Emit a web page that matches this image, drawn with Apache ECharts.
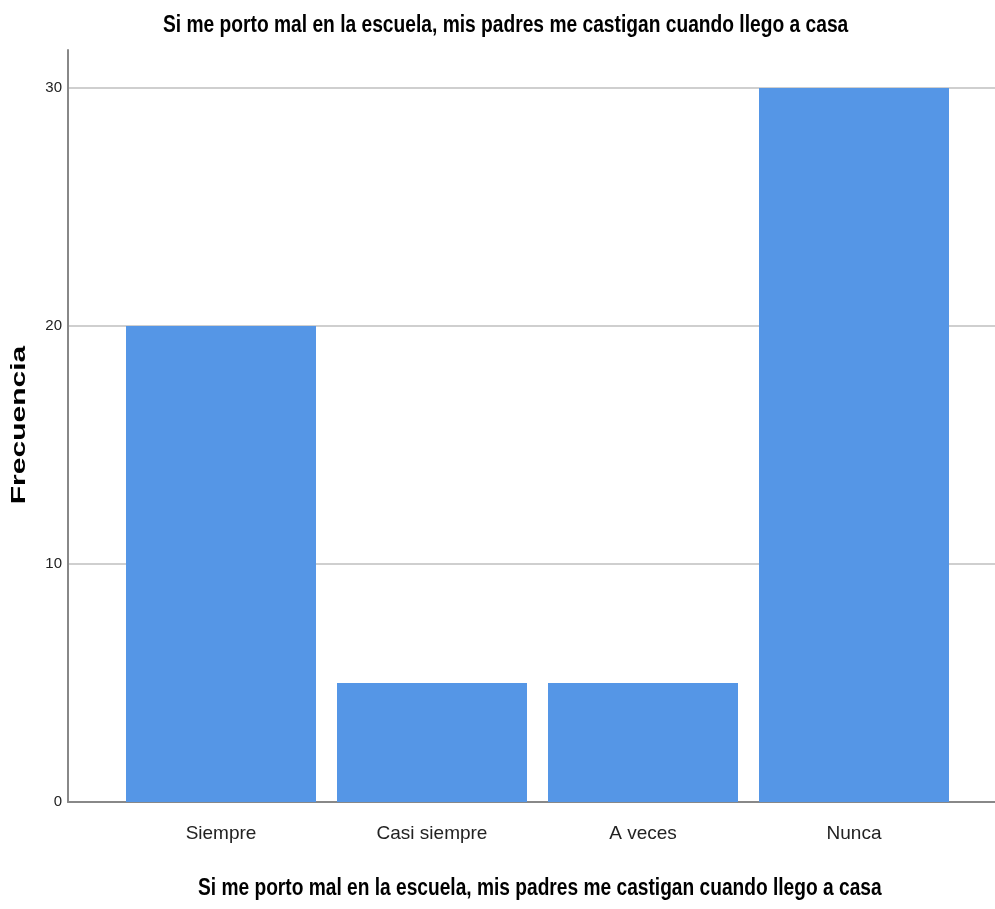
<!DOCTYPE html>
<html>
<head>
<meta charset="utf-8">
<script src="https://cdn.jsdelivr.net/npm/echarts@6/dist/echarts.min.js"></script>
<style>html,body{margin:0;padding:0;background:#fff}#c{width:995px;height:909px}</style>
</head>
<body>
<div id="c"></div>
<script>
const categories = ["Siempre", "Casi siempre", "A veces", "Nunca"];
const frecuencia = [20, 5, 5, 30];
const yTicks = [0, 10, 20, 30];
const titleText = "Si me porto mal en la escuela, mis padres me castigan cuando llego a casa";
const yName = "Frecuencia";

const FONT = '"Liberation Sans", Arial, sans-serif';
const yMax = 31.6;
const chart = echarts.init(document.getElementById('c'));
chart.setOption({
  animation: false,
  backgroundColor: '#fff',
  graphic: [
    { type: 'text', x: 163, y: 14, scaleX: 0.835, style: { text: titleText, font: 'bold 23px ' + FONT, fill: '#000' } },
    { type: 'text', x: 198, y: 877, scaleX: 0.833, style: { text: titleText, font: 'bold 23px ' + FONT, fill: '#000' } },
    { type: 'text', x: 19, y: 425, rotation: Math.PI / 2, scaleX: 1.5,
      style: { text: yName, font: 'bold 20px ' + FONT, fill: '#000', align: 'center', verticalAlign: 'middle' } }
  ],
  grid: [
    { left: 68, right: 0, top: 50, bottom: 107, outerBoundsMode: 'none', containLabel: false },
    { left: 115.5, right: 35.5, top: 50, bottom: 107, outerBoundsMode: 'none', containLabel: false }
  ],
  xAxis: [
    { gridIndex: 0, type: 'value', min: 0, max: 1, axisLine: { show: true, onZero: false, lineStyle: { color: '#888', width: 2 } },
      axisTick: { show: false }, axisLabel: { show: false }, splitLine: { show: false } },
    { gridIndex: 1, type: 'category', data: categories, axisLine: { show: false }, axisTick: { show: false },
      axisLabel: { margin: 22, fontFamily: FONT, fontSize: 19, color: '#222' } }
  ],
  yAxis: [
    { gridIndex: 0, type: 'value', min: 0, max: yMax, interval: 10,
      axisLine: { show: true, lineStyle: { color: '#888', width: 2 } }, axisTick: { show: false },
      axisLabel: { margin: 6, fontFamily: FONT, fontSize: 15, color: '#222', showMaxLabel: false,
        formatter: v => yTicks.includes(v) ? String(v) : '' },
      splitLine: { show: true, showMaxLine: false, showMinLine: false, lineStyle: { color: '#cfcfcf', width: 2 } } },
    { gridIndex: 1, type: 'value', min: 0, max: yMax, interval: 10, show: false, splitLine: { show: false } }
  ],
  series: [
    { type: 'bar', xAxisIndex: 1, yAxisIndex: 1, data: frecuencia, barWidth: 190,
      itemStyle: { color: '#5596E6' } }
  ]
});
</script>
</body>
</html>
